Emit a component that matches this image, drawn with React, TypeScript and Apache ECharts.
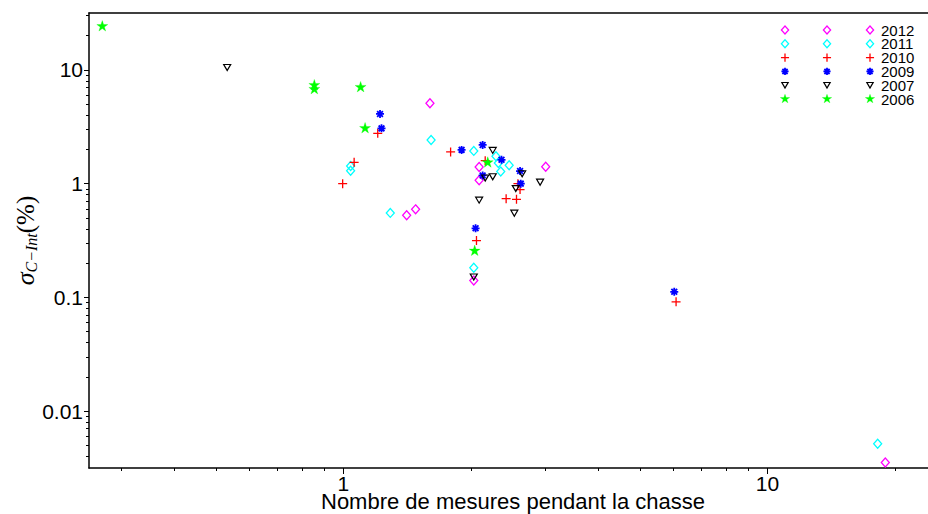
import React, { useEffect, useRef } from "react";
import * as echarts from "echarts";

// ---- data ----
const years = ["2012", "2011", "2010", "2009", "2007", "2006"];

const x2012 = [1.6, 1.48, 1.41, 2.09, 2.09, 3.0, 2.03, 18.97];
const y2012 = [5.08, 0.594, 0.527, 1.4, 1.07, 1.41, 0.141, 0.00353];

const x2011 = [1.61, 1.04, 1.04, 1.29, 2.03, 2.29, 2.32, 2.46, 2.35, 2.03, 18.2];
const y2011 = [2.42, 1.43, 1.3, 0.553, 1.94, 1.74, 1.52, 1.45, 1.28, 0.182, 0.00516];

const x2010 = [1.205, 1.06, 0.996, 1.79, 2.16, 2.58, 2.61, 2.42, 2.56, 2.06, 6.09];
const y2010 = [2.77, 1.54, 1.0, 1.9, 1.59, 1.0, 0.886, 0.738, 0.728, 0.316, 0.0913];

const x2009 = [1.22, 1.23, 1.9, 2.13, 2.36, 2.61, 2.13, 2.62, 2.05, 6.03];
const y2009 = [4.1, 3.06, 1.98, 2.19, 1.62, 1.29, 1.18, 1.0, 0.405, 0.112];

const x2007 = [0.532, 2.25, 2.64, 2.16, 2.25, 2.91, 2.55, 2.09, 2.53, 2.03];
const y2007 = [10.5, 1.96, 1.22, 1.12, 1.15, 1.03, 0.904, 0.716, 0.55, 0.151];

const x2006 = [0.27, 0.854, 0.854, 1.098, 1.125, 2.19, 2.04];
const y2006 = [24.4, 7.41, 6.84, 7.12, 3.1, 1.55, 0.259];

const xMajor = [1, 10];
const yMajor = [0.01, 0.1, 1, 10];
const xMinor = [0.3, 0.4, 0.5, 0.6, 0.7, 0.8, 0.9, 2, 3, 4, 5, 6, 7, 8, 9, 20];
const yMinor = [
  0.004, 0.005, 0.006, 0.007, 0.008, 0.009,
  0.02, 0.03, 0.04, 0.05, 0.06, 0.07, 0.08, 0.09,
  0.2, 0.3, 0.4, 0.5, 0.6, 0.7, 0.8, 0.9,
  2, 3, 4, 5, 6, 7, 8, 9, 20, 30,
];

// ---- symbols (unit paths for the scatter series) ----
const DIAMOND_D = "M0,-1L1,0L0,1L-1,0Z";
const PLUS_D = "M-1,0L1,0M0,-1L0,1";
const ASTER_D = "M-1,0L1,0M0,-1L0,1M-0.72,-0.72L0.72,0.72M-0.72,0.72L0.72,-0.72";
const TRI_D = "M-1,-1L1,-1L0,1Z";
const STAR_D =
  "M0,-1L0.2245,-0.309L0.951,-0.309L0.363,0.118L0.588,0.809L0,0.382L-0.588,0.809L-0.363,0.118L-0.951,-0.309L-0.2245,-0.309Z";

// register legend marker shapes (unit paths, scaled in the graphic)
const shapeNames: Record<string, string> = {
  mkDiamond: DIAMOND_D,
  mkPlus: PLUS_D,
  mkAster: ASTER_D,
  mkTri: TRI_D,
  mkStar: STAR_D,
};
let registered = false;
function registerShapes() {
  if (registered) return;
  registered = true;
  Object.keys(shapeNames).forEach((k) => {
    echarts.graphic.registerShape(k, (echarts.graphic as any).extendPath(shapeNames[k], {}));
  });
}

const seriesDefs = [
  { name: "2012", xs: x2012, ys: y2012, d: DIAMOND_D, shape: "mkDiamond", size: [8, 9], fill: "none", stroke: "#ff00ff", lw: 1.3 },
  { name: "2011", xs: x2011, ys: y2011, d: DIAMOND_D, shape: "mkDiamond", size: [8, 9], fill: "none", stroke: "#00ffff", lw: 1.3 },
  { name: "2010", xs: x2010, ys: y2010, d: PLUS_D, shape: "mkPlus", size: [9, 9], fill: "none", stroke: "#ff0000", lw: 1.3 },
  { name: "2009", xs: x2009, ys: y2009, d: ASTER_D, shape: "mkAster", size: [8, 8], fill: "none", stroke: "#0000ff", lw: 1.8 },
  { name: "2007", xs: x2007, ys: y2007, d: TRI_D, shape: "mkTri", size: [7, 6], fill: "none", stroke: "#000000", lw: 1.2 },
  { name: "2006", xs: x2006, ys: y2006, d: STAR_D, shape: "mkStar", size: [11, 10.5], fill: "#00ff00", stroke: "#00ff00", lw: 0.3 },
];

const lg = (v: number) => Math.log10(v);

const fmtPow = (v: number) => {
  const p = Math.round(v);
  return p >= 0 ? String(Math.pow(10, p)) : Math.pow(10, p).toFixed(-p);
};

const SANS = "Liberation Sans, Arial, sans-serif";
const SERIF = "Liberation Serif, Times New Roman, serif";

export default function App() {
  const ref = useRef<HTMLDivElement>(null);

  useEffect(() => {
    if (!ref.current) return;
    registerShapes();
    const chart = echarts.init(ref.current, undefined, { renderer: "svg" });

    const xMin = -0.6, xMax = 1.4, yMin = -2.5, yMax = 1.5;

    // legend drawn as graphic: 3 marker columns + label
    const legendCols = [785, 827, 870];
    const legendTop = 30;
    const legendStep = 13.8;
    const legendGraphics: any[] = [];
    years.forEach((yr, i) => {
      const def = seriesDefs.find((s) => s.name === yr)!;
      const cy = legendTop + i * legendStep;
      legendCols.forEach((cx) => {
        legendGraphics.push({
          type: def.shape,
          x: cx,
          y: cy,
          scaleX: (def.size[0] / 2) * 0.9,
          scaleY: (def.size[1] / 2) * 0.9,
          silent: true,
          style: { fill: def.fill, stroke: def.stroke, lineWidth: def.lw, strokeNoScale: true },
        });
      });
      legendGraphics.push({
        type: "text",
        x: 881,
        y: cy,
        silent: true,
        style: {
          text: yr,
          fill: "#000",
          font: `15px ${SANS}`,
          verticalAlign: "middle",
          align: "left",
        },
      });
    });

    const noZero = { onZero: false };

    const option: any = {
      animation: false,
      backgroundColor: "#fff",
      grid: {
        left: 89,
        top: 13,
        width: 848,
        height: 455,
        containLabel: false,
        outerBoundsMode: "none",
      },
      graphic: legendGraphics,
      xAxis: [
        {
          type: "value",
          min: xMin,
          max: xMax,
          position: "bottom",
          axisLine: { show: true, ...noZero, lineStyle: { color: "#000", width: 1.5 } },
          axisTick: { show: true, inside: false, length: 6, customValues: xMajor.map(lg), lineStyle: { color: "#000", width: 1 } },
          axisLabel: {
            show: true,
            customValues: xMajor.map(lg),
            formatter: fmtPow,
            margin: 5,
            fontFamily: SANS,
            fontSize: 21,
            color: "#000",
          },
          splitLine: { show: false },
          name: "Nombre de mesures pendant la chasse",
          nameLocation: "middle",
          nameGap: 22,
          nameMoveOverlap: false,
          nameTextStyle: { fontFamily: SANS, fontSize: 22, color: "#000" },
        },
        {
          type: "value",
          min: xMin,
          max: xMax,
          position: "bottom",
          axisLine: { show: false, ...noZero },
          axisTick: { show: true, inside: false, length: 3, customValues: xMinor.map(lg), lineStyle: { color: "#000", width: 1 } },
          axisLabel: { show: false },
          splitLine: { show: false },
        },
        {
          type: "value",
          min: xMin,
          max: xMax,
          position: "top",
          axisLine: { show: true, ...noZero, lineStyle: { color: "#000", width: 1.5 } },
          axisTick: { show: false },
          axisLabel: { show: false },
          splitLine: { show: false },
        },
      ],
      yAxis: [
        {
          type: "value",
          min: yMin,
          max: yMax,
          position: "left",
          axisLine: { show: true, ...noZero, lineStyle: { color: "#000", width: 1.5 } },
          axisTick: { show: true, inside: false, length: 5, customValues: yMajor.map(lg), lineStyle: { color: "#000", width: 1 } },
          axisLabel: {
            show: true,
            customValues: yMajor.map(lg),
            formatter: fmtPow,
            margin: 6,
            fontFamily: SANS,
            fontSize: 21,
            color: "#000",
          },
          splitLine: { show: false },
          name: "{s|σ}{sub|C−Int}{p|(%)}",
          nameLocation: "middle",
          nameRotate: 90,
          nameGap: 50,
          nameMoveOverlap: false,
          nameTextStyle: {
            color: "#000",
            rich: {
              s: { fontFamily: SERIF, fontStyle: "italic", fontSize: 26, color: "#000" },
              sub: { fontFamily: SERIF, fontStyle: "italic", fontSize: 16, color: "#000", verticalAlign: "bottom", padding: [12, 0, 0, 0] },
              p: { fontFamily: SERIF, fontSize: 25, color: "#000" },
            },
          },
        },
        {
          type: "value",
          min: yMin,
          max: yMax,
          position: "left",
          axisLine: { show: false, ...noZero },
          axisTick: { show: true, inside: false, length: 3, customValues: yMinor.map(lg), lineStyle: { color: "#000", width: 1 } },
          axisLabel: { show: false },
          splitLine: { show: false },
        },
      ],
      series: seriesDefs.map((d) => ({
        name: d.name,
        type: "scatter",
        xAxisIndex: 0,
        yAxisIndex: 0,
        symbol: "path://" + d.d,
        symbolSize: d.size,
        itemStyle: { color: d.fill, borderColor: d.stroke, borderWidth: d.lw, opacity: 1 },
        emphasis: { disabled: true },
        data: d.xs.map((x, i) => [lg(x), lg(d.ys[i])]),
      })),
    };

    chart.setOption(option);
    return () => chart.dispose();
  }, []);

  return (
    <div
      ref={ref}
      style={{ position: "fixed", left: 0, top: 0, width: 928, height: 514, background: "#fff" }}
    />
  );
}
